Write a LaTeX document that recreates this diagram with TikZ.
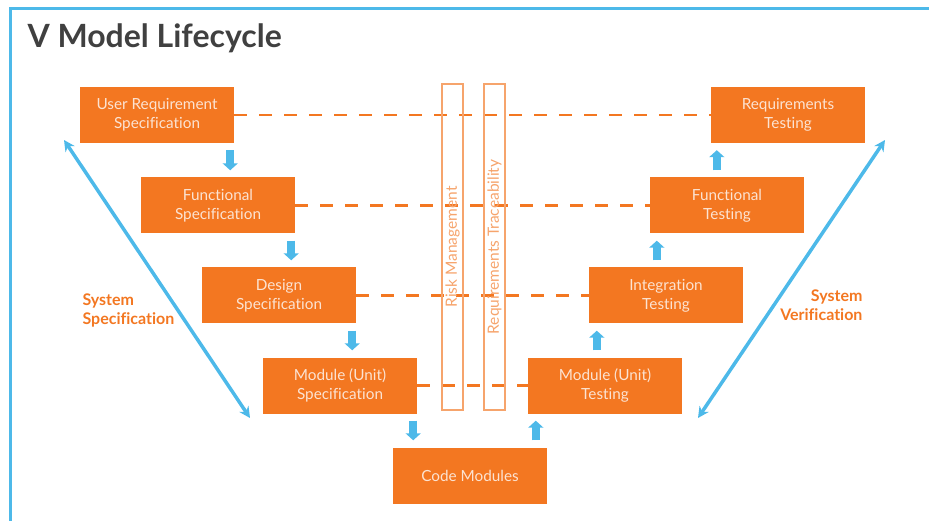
\documentclass[tikz,border=0pt]{standalone}
\usepackage{fontspec}
\setmainfont{Lato}[Ligatures=NoCommon]
\usetikzlibrary{arrows.meta}
\definecolor{vorange}{HTML}{F37721}
\definecolor{vblue}{HTML}{4DB9E9}
\definecolor{vpale}{HTML}{FCE3D2}
\definecolor{vlane}{HTML}{F6A46C}
\definecolor{vtitle}{HTML}{404040}
\begin{document}
\begin{tikzpicture}[x=1pt,y=-1pt,
box/.style={fill=vorange,text=vpale,minimum width=154pt,minimum height=56pt,inner sep=0pt,align=center,font=\fontsize{15.3}{19}\selectfont},
lane/.style={draw=vlane,line width=1.5pt,text=vlane,rotate=90,minimum width=326pt,minimum height=21pt,inner sep=0pt,font=\fontsize{15.5}{17}\selectfont},
trace/.style={vorange,line width=2.5pt,dash pattern=on 13pt off 12pt},
flow/.style={vblue,line width=8pt,-{Triangle[width=15pt,length=7pt]},shorten <=7pt,shorten >=7pt},
vee/.style={vblue,line width=3.5pt,{Stealth[length=11pt,width=11pt]}-{Stealth[length=11pt,width=11pt]}},
side/.style={text=vorange,font=\bfseries\fontsize{16}{19}\selectfont}]
\useasboundingbox (0,0) rectangle (929,521);
\draw[vblue,line width=3pt] (10,521) -- (10,8.5) -- (929,8.5);
\node[anchor=west,text=vtitle,font=\bfseries\fontsize{32}{34}\selectfont] (title) at (24,38) {V Model Lifecycle};
% left side of the V
\node[box] (urs) at (157,115) {User Requirement\\Specification};
\node[box] (fs) at (218,205.5) {Functional\\Specification};
\node[box] (ds) at (279,295.5) {Design\\Specification};
\node[box] (ms) at (340,385.5) {Module (Unit)\\Specification};
\node[box] (cm) at (470,475.5) {Code Modules};
% right side of the V
\node[box] (mt) at (605,385.5) {Module (Unit)\\Testing};
\node[box] (it) at (666,295.5) {Integration\\Testing};
\node[box] (ft) at (727,205.5) {Functional\\Testing};
\node[box] (rt) at (788,115) {Requirements\\Testing};
\draw[trace] (urs.east) -- (rt.west);
\draw[trace] (fs.east) -- (ft.west);
\draw[trace] (ds.east) -- (it.west);
\draw[trace] (ms.east) -- (mt.west);
\node[lane] (risk) at (452.5,247) {Risk Management};
\node[lane] (trace) at (494.5,247) {Requirements Traceability};
\draw[flow] ([xshift=-4pt]urs.south east) -- ([xshift=-4pt]urs.south east |- fs.north);
\draw[flow] ([xshift=-4pt]fs.south east) -- ([xshift=-4pt]fs.south east |- ds.north);
\draw[flow] ([xshift=-4pt]ds.south east) -- ([xshift=-4pt]ds.south east |- ms.north);
\draw[flow] ([xshift=-4pt]ms.south east) -- ([xshift=-4pt]ms.south east |- cm.north);
\draw[flow] ([xshift=8pt]mt.south west |- cm.north) -- ([xshift=8pt]mt.south west);
\draw[flow] ([xshift=8pt]it.south west |- mt.north) -- ([xshift=8pt]it.south west);
\draw[flow] ([xshift=7pt]ft.south west |- it.north) -- ([xshift=7pt]ft.south west);
\draw[flow] ([xshift=6pt]rt.south west |- ft.north) -- ([xshift=6pt]rt.south west);
% the two long arms
\coordinate (spec top) at (64,140);
\coordinate (spec end) at (250,418);
\coordinate (ver top) at (885,140);
\coordinate (ver end) at (698,418);
\draw[vee] (spec top) -- (spec end);
\draw[vee] (ver top) -- (ver end);
\node[side,anchor=west,align=left] (spec) at (79,310) {System\\Specification};
\node[side,anchor=east,align=right] (ver) at (866,305) {System\\Verification};
\end{tikzpicture}
\end{document}
